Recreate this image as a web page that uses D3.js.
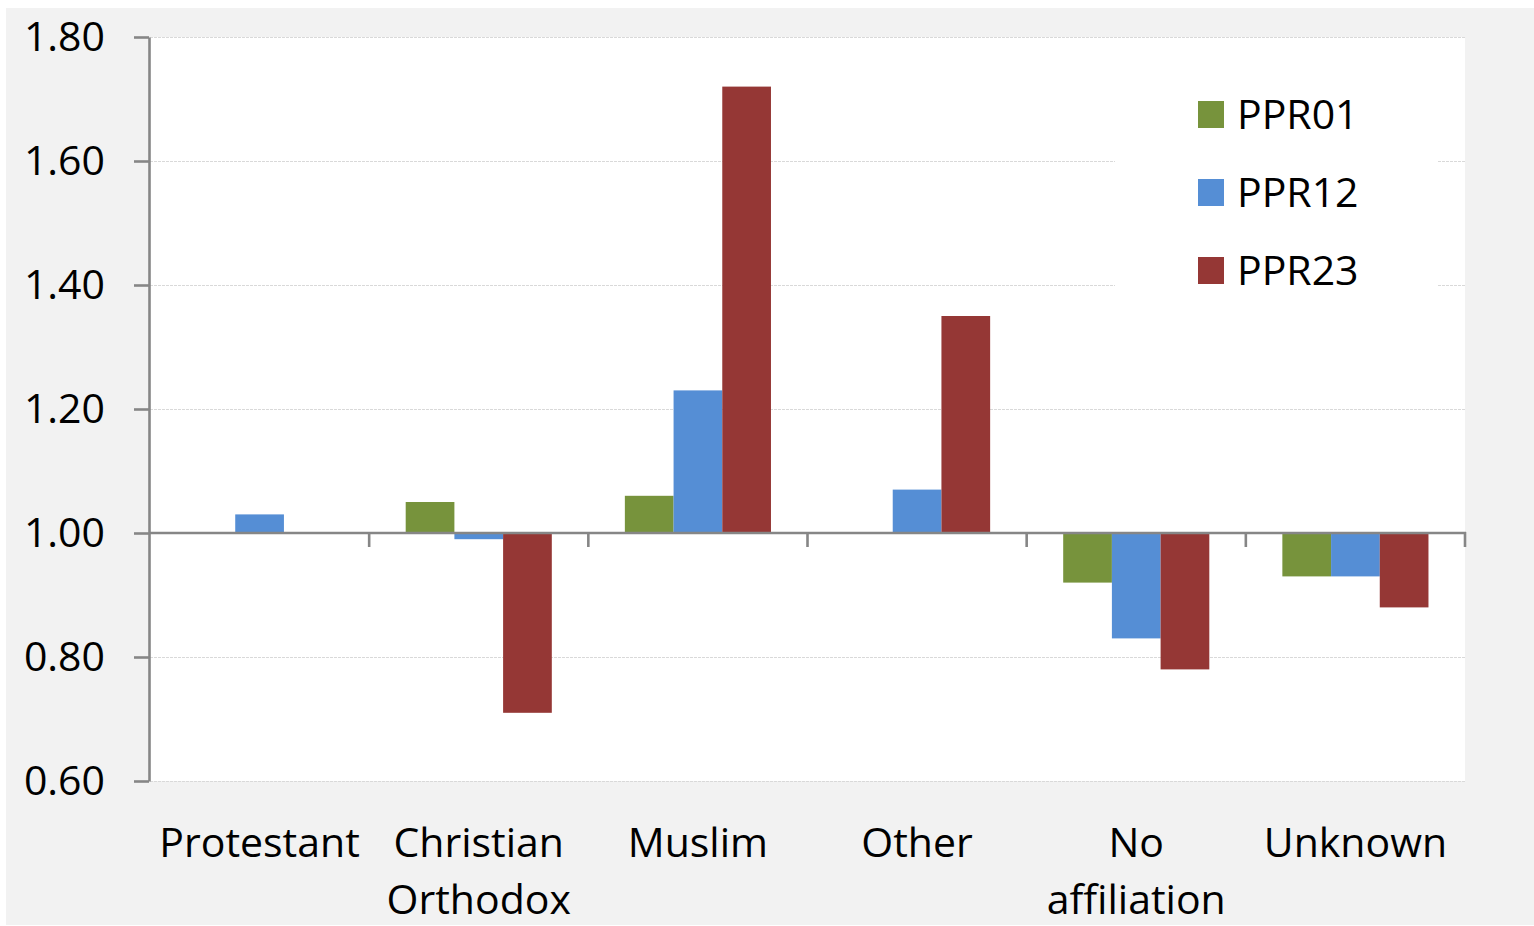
<!DOCTYPE html>
<html>
<head>
<meta charset="utf-8">
<script src="https://cdn.jsdelivr.net/npm/d3@7"></script>
<style>
  html, body { margin: 0; padding: 0; background: #ffffff; }
  svg { display: block; }
  text { font-family: "Open Sans", "Noto Sans", sans-serif; fill: #000; }
</style>
</head>
<body>
<svg id="chart" width="1534" height="926"></svg>
<script>
// Religion categories (label lines) and the three period ratios
const categories = [
  ["Protestant"],
  ["Christian", "Orthodox"],
  ["Muslim"],
  ["Other"],
  ["No", "affiliation"],
  ["Unknown"]
];
const seriesNames = ["PPR01", "PPR12", "PPR23"];
const ppr01 = [1.00, 1.05, 1.06, 1.00, 0.92, 0.93];
const ppr12 = [1.03, 0.99, 1.23, 1.07, 0.83, 0.93];
const ppr23 = [1.00, 0.71, 1.72, 1.35, 0.78, 0.88];
const yTicks = [0.60, 0.80, 1.00, 1.20, 1.40, 1.60, 1.80];
const colors = ["#77933C", "#558ED5", "#953735"];

const seriesValues = [ppr01, ppr12, ppr23];
const baseline = 1.00;

const svg = d3.select("#chart");
const W = 1534;
const plot = { left: 150, right: 1465, top: 37, bottom: 781 };
const axisColor = "#868686";
const axisWidth = 2.6;
const fontSize = 41;

// chart area background
svg.append("rect")
  .attr("x", 6).attr("y", 8)
  .attr("width", W - 6).attr("height", 925 - 8)
  .attr("fill", "#f2f2f2");

// plot area
svg.append("rect")
  .attr("x", plot.left).attr("y", plot.top)
  .attr("width", plot.right - plot.left).attr("height", plot.bottom - plot.top)
  .attr("fill", "#ffffff");

const y = d3.scaleLinear().domain([0.60, 1.80]).range([plot.bottom, plot.top]);
const x0 = d3.scaleBand()
  .domain(d3.range(categories.length))
  .range([plot.left, plot.right])
  .paddingInner(0).paddingOuter(0);
// bars fill 3/4.5 of each band (gap width 150%)
const barW = x0.bandwidth() / 4.5;
const x1 = d3.scaleBand().domain(d3.range(seriesNames.length))
  .range([0, barW * 3]);

// horizontal gridlines
svg.append("g")
  .selectAll("line")
  .data(yTicks.filter(t => t !== baseline))
  .join("line")
  .attr("x1", plot.left).attr("x2", plot.right)
  .attr("y1", d => Math.round(y(d)) + 0.5).attr("y2", d => Math.round(y(d)) + 0.5)
  .attr("stroke", "#d9d9d9")
  .attr("stroke-width", 1)
  .attr("stroke-dasharray", "3,1");

// legend box (covers gridlines behind it)
const legend = svg.append("g");
legend.append("rect")
  .attr("x", 1115).attr("y", 70)
  .attr("width", 1437 - 1115).attr("height", 240)
  .attr("fill", "#ffffff");

// bars
const groups = svg.append("g")
  .selectAll("g")
  .data(categories.map((c, i) => i))
  .join("g")
  .attr("transform", i => `translate(${x0(i) + (x0.bandwidth() - barW * 3) / 2},0)`);

groups.selectAll("rect")
  .data(i => seriesValues.map((vals, s) => ({ s, v: vals[i] })))
  .join("rect")
  .attr("x", d => x1(d.s))
  .attr("width", x1.bandwidth())
  .attr("y", d => y(Math.max(d.v, baseline)))
  .attr("height", d => Math.abs(y(d.v) - y(baseline)))
  .attr("fill", d => colors[d.s]);

// y axis
const yAxis = d3.axisLeft(y)
  .tickValues(yTicks)
  .tickFormat(d3.format(".2f"))
  .tickSize(15)
  .tickPadding(29)
  .tickSizeOuter(0);
const gy = svg.append("g")
  .attr("transform", `translate(${plot.left - 1},0)`)
  .call(yAxis);
gy.select(".domain").attr("stroke", axisColor).attr("stroke-width", axisWidth);
gy.selectAll(".tick line").attr("stroke", axisColor).attr("stroke-width", axisWidth);
gy.selectAll(".tick text")
  .style("font-family", '"Open Sans", "Noto Sans", sans-serif')
  .style("font-size", fontSize + "px")
  .attr("fill", "#000");

// category axis crossing at 1.00, ticks between categories
const boundaries = d3.range(categories.length + 1).map(i => plot.left + i * x0.bandwidth());
const gx = svg.append("g");
gx.append("line")
  .attr("x1", plot.left).attr("x2", plot.right + 1)
  .attr("y1", y(baseline)).attr("y2", y(baseline))
  .attr("stroke", axisColor).attr("stroke-width", axisWidth);
gx.selectAll("line.tk")
  .data(boundaries.slice(1))
  .join("line")
  .attr("class", "tk")
  .attr("x1", d => d).attr("x2", d => d)
  .attr("y1", y(baseline) - 1).attr("y2", y(baseline) + 14)
  .attr("stroke", axisColor).attr("stroke-width", axisWidth);

// category labels
const labels = svg.append("g")
  .selectAll("text")
  .data(categories)
  .join("text")
  .attr("text-anchor", "middle")
  .attr("font-size", fontSize)
  .attr("x", (d, i) => x0(i) + x0.bandwidth() / 2)
  .attr("y", 857);
labels.selectAll("tspan")
  .data(d => d)
  .join("tspan")
  .attr("x", function () { return d3.select(this.parentNode).attr("x"); })
  .attr("dy", (d, i) => i === 0 ? 0 : 57)
  .text(d => d);

// legend entries
const items = legend.selectAll("g.item")
  .data(seriesNames)
  .join("g")
  .attr("class", "item")
  .attr("transform", (d, i) => `translate(1198,${101 + i * 78})`);
items.append("rect")
  .attr("width", 26).attr("height", 27)
  .attr("fill", (d, i) => colors[i]);
items.append("text")
  .attr("x", 39).attr("y", 13.5)
  .attr("dy", "0.36em")
  .attr("font-size", fontSize)
  .text(d => d);
</script>
</body>
</html>
